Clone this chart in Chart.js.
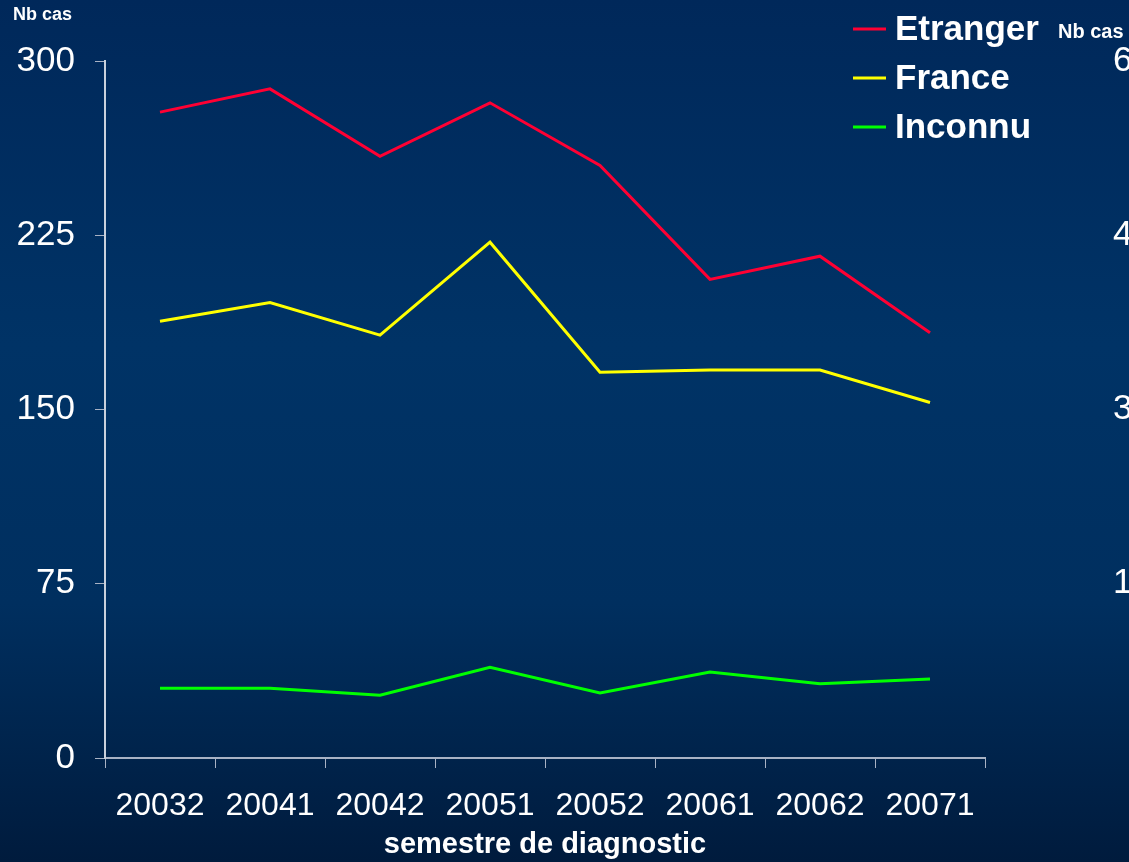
<!DOCTYPE html>
<html>
<head>
<meta charset="utf-8">
<script src="https://cdn.jsdelivr.net/npm/chart.js@4/dist/chart.umd.min.js"></script>
<style>
    html, body { margin: 0; padding: 0; overflow: hidden; }
    body {
        width: 1129px; height: 862px;
        background: linear-gradient(to bottom, #00285a 0%, #003366 40%, #002f5f 70%, #001b3d 100%);
    }
    #wrap { position: relative; width: 1129px; height: 862px; }
</style>
</head>
<body>
<div id="wrap"><canvas id="chart" width="1129" height="862"></canvas></div>
<script>
const semestres = ["20032", "20041", "20042", "20051", "20052", "20061", "20062", "20071"];
const etranger = [278, 288, 259, 282, 255, 206, 216, 183];
const france = [188, 196, 182, 222, 166, 167, 167, 153];
const inconnu = [30, 30, 27, 39, 28, 37, 32, 34];
const leftTicks = [0, 75, 150, 225, 300];
const rightTicks = [150, 300, 450, 600];

Chart.defaults.font.family = "'Liberation Sans', Arial, sans-serif";
Chart.defaults.color = "#ffffff";

// legende et libelles "Nb cas"
const extras = {
    id: "extras",
    afterDraw(chart) {
        const ctx = chart.ctx;
        ctx.save();
        ctx.fillStyle = "#ffffff";
        ctx.textBaseline = "middle";
        ctx.textAlign = "left";
        ctx.font = "bold 18px 'Liberation Sans', Arial, sans-serif";
        ctx.fillText("Nb cas", 13, 15);
        ctx.font = "bold 20px 'Liberation Sans', Arial, sans-serif";
        ctx.fillText("Nb cas", 1058, 32);

        ctx.font = "bold 35px 'Liberation Sans', Arial, sans-serif";
        chart.data.datasets.forEach((ds, i) => {
            const y = 29 + i * 49;
            ctx.strokeStyle = ds.borderColor;
            ctx.lineWidth = 3;
            ctx.beginPath();
            ctx.moveTo(853, y);
            ctx.lineTo(886, y);
            ctx.stroke();
            ctx.fillText(ds.label, 895, y + 1);
        });
        ctx.restore();
    }
};

new Chart(document.getElementById("chart"), {
    type: "line",
    data: {
        labels: semestres,
        datasets: [
            { label: "Etranger", data: etranger, borderColor: "#ff0033", yAxisID: "y" },
            { label: "France", data: france, borderColor: "#ffff00", yAxisID: "y" },
            { label: "Inconnu", data: inconnu, borderColor: "#00ff00", yAxisID: "y" }
        ]
    },
    options: {
        responsive: false,
        animation: false,
        devicePixelRatio: 1,
        elements: {
            line: { borderWidth: 3, tension: 0 },
            point: { radius: 0 }
        },
        layout: { padding: { top: 61, left: 0, right: 0, bottom: 0 } },
        plugins: {
            legend: { display: false },
            tooltip: { enabled: false }
        },
        scales: {
            x: {
                offset: true,
                grid: {
                    display: true,
                    drawOnChartArea: false,
                    offset: true,
                    tickLength: 10,
                    color: "#a8b2c4"
                },
                border: { color: "#a8b2c4", width: 2 },
                ticks: { color: "#ffffff", font: { size: 32 }, padding: 19, maxRotation: 0 },
                title: {
                    display: true,
                    text: "semestre de diagnostic",
                    color: "#ffffff",
                    font: { size: 29, weight: "bold" },
                    padding: { top: 0, bottom: 0 }
                },
                afterFit(scale) { scale.height = 104; }
            },
            y: {
                position: "left",
                min: 0,
                max: 300,
                afterBuildTicks(scale) { scale.ticks = leftTicks.map(v => ({ value: v })); },
                grid: { drawOnChartArea: false, tickLength: 10, color: "#a8b2c4" },
                border: { color: "#c8d0dc", width: 2 },
                ticks: { color: "#ffffff", font: { size: 35 }, padding: 20 },
                afterFit(scale) { scale.width = 105; }
            },
            y2: {
                position: "right",
                min: 0,
                max: 600,
                afterBuildTicks(scale) { scale.ticks = rightTicks.map(v => ({ value: v })); },
                grid: { display: false, drawTicks: true, tickLength: 128 },
                border: { display: false },
                ticks: { color: "#ffffff", font: { size: 35 }, padding: 0 },
                afterFit(scale) { scale.width = 144; }
            }
        }
    },
    plugins: [extras]
});
</script>
</body>
</html>
